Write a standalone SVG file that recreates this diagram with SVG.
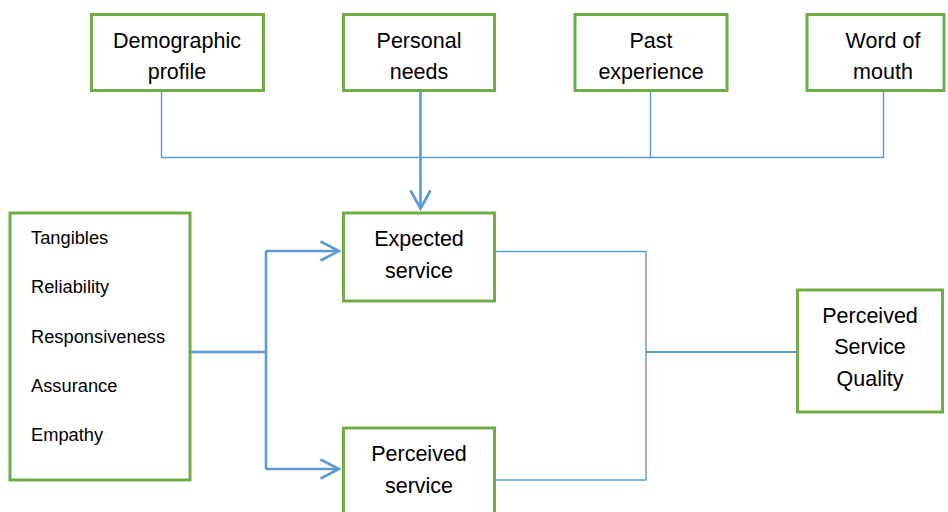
<svg xmlns="http://www.w3.org/2000/svg" width="948" height="512" viewBox="0 0 948 512">
<defs>
<style>
.box{fill:#fff;stroke:#70AD47;stroke-width:3}
.t{font-family:"Liberation Sans",Arial,sans-serif;font-size:21.5px;fill:#000;text-anchor:middle}
.s{font-family:"Liberation Sans",Arial,sans-serif;font-size:18.3px;fill:#000}
.thin{fill:none;stroke:#5B9BD5;stroke-width:1.4}
.thick{fill:none;stroke:#5B9BD5;stroke-width:2.6}
</style>
</defs>
<rect width="948" height="512" fill="#fff"/>
<g id="connectors">
<path class="thin" d="M161.5,91 V157.5 H883.5 V91 M650.5,91 V157.5"/>
<path class="thick" d="M420.5,91 V208"/>
<path class="thick" d="M410.5,190.5 L420.5,208.5 L430.5,190.5"/>
<path class="thick" d="M190,352 H266 M266,251 V469 M266,251 H338 M266,469 H338"/>
<path class="thick" d="M320.5,241.5 L339,251 L320.5,260.5 M320.5,459.5 L339,469 L320.5,478.5"/>
<path class="thin" d="M495,251.5 H646 V480 H495"/>
<path class="thin" d="M646,352 H797" style="stroke-width:1.8"/>
</g>
<g id="demographic">
<rect class="box" x="91.5" y="14.5" width="172" height="76"/>
<text class="t" x="177" y="48">Demographic</text>
<text class="t" x="177" y="79">profile</text>
</g>
<g id="personal">
<rect class="box" x="343.5" y="14.5" width="151" height="76"/>
<text class="t" x="419" y="48">Personal</text>
<text class="t" x="419" y="79">needs</text>
</g>
<g id="past">
<rect class="box" x="575" y="14.5" width="152" height="76"/>
<text class="t" x="651" y="48">Past</text>
<text class="t" x="651" y="79">experience</text>
</g>
<g id="word">
<rect class="box" x="807" y="14.5" width="137" height="76"/>
<text class="t" x="883" y="48">Word of</text>
<text class="t" x="883" y="79">mouth</text>
</g>
<g id="dimensions">
<rect class="box" x="10" y="213" width="180" height="267"/>
<text class="s" x="31" y="243.5">Tangibles</text>
<text class="s" x="31" y="293">Reliability</text>
<text class="s" x="31" y="342.5">Responsiveness</text>
<text class="s" x="31" y="392">Assurance</text>
<text class="s" x="31" y="441">Empathy</text>
</g>
<g id="expected">
<rect class="box" x="343.5" y="213" width="151" height="88"/>
<text class="t" x="419" y="246">Expected</text>
<text class="t" x="419" y="278">service</text>
</g>
<g id="perceived">
<rect class="box" x="343.5" y="428" width="151" height="90"/>
<text class="t" x="419" y="461">Perceived</text>
<text class="t" x="419" y="493">service</text>
</g>
<g id="quality">
<rect class="box" x="797.5" y="290" width="145" height="122"/>
<text class="t" x="870" y="323">Perceived</text>
<text class="t" x="870" y="354">Service</text>
<text class="t" x="870" y="385.5">Quality</text>
</g>
</svg>
